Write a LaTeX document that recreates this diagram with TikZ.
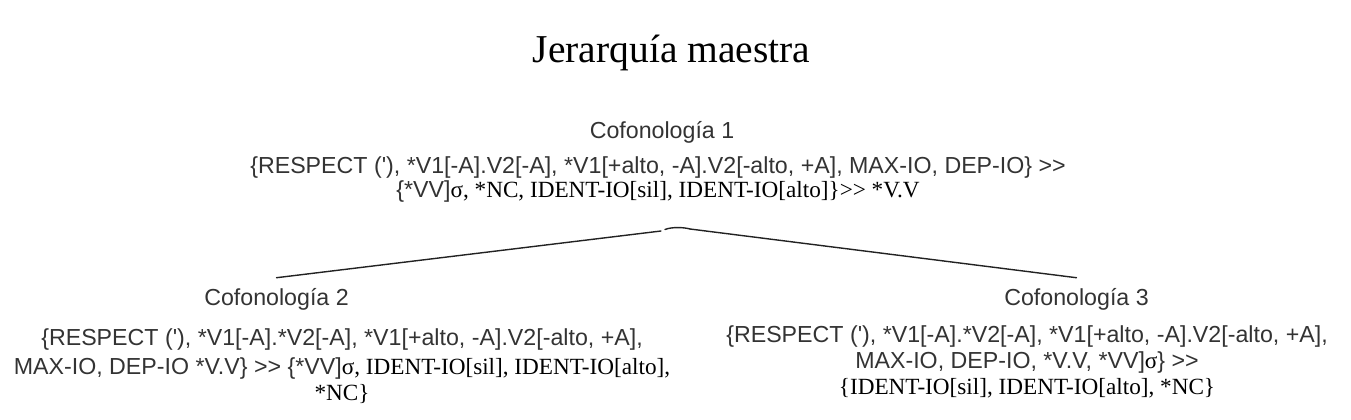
\documentclass[tikz,border=0pt]{standalone}
\usepackage{fontspec}
\setmainfont{Liberation Serif}
\setsansfont{Liberation Sans}
\definecolor{sanscol}{HTML}{333333}
\definecolor{linecol}{HTML}{222222}
\newcommand\sfp[1]{{\sffamily\color{sanscol}#1}}
\newcommand\rmp[1]{{\rmfamily\color{black}#1}}
\newcommand\apo{\textquotesingle}
\newcommand\GG{>{}>}
\tikzset{
  lbl/.style={font=\sffamily\fontsize{23.2}{26}\selectfont, text=sanscol, inner xsep=0pt, inner ysep=10pt, anchor=base},
  body/.style={font=\fontsize{23.2}{26}\selectfont, inner sep=0pt, align=center, anchor=base},
  conn/.style={draw=linecol, line width=1.4pt, line cap=round}
}
\begin{document}
\begin{tikzpicture}[x=1pt,y=-1pt]
\useasboundingbox (0,0) rectangle (1351,420);
\node[font=\rmfamily\fontsize{39.5}{44}\selectfont, inner sep=0pt, anchor=base] (title) at (671.5,63) {Jerarquía maestra};

\node[lbl] (c1) at (662,138) {Cofonología 1};
\node[body] (r1) at (658,197) {\sfp{\{RESPECT (\apo), *V1[-A].V2[-A], *V1[+alto, -A].V2[-alto, +A], MAX-IO, DEP-IO\} \GG}\\[-2pt]
\sfp{\{*VV]}\rmp{σ, *NC, IDENT-IO[sil], IDENT-IO[alto]\}\GG{} *V.V}};

\node[lbl] (c2) at (276.5,305) {Cofonología 2};
\node[body] (r2) at (342,400) {\sfp{\{RESPECT (\apo), *V1[-A].*V2[-A], *V1[+alto, -A].V2[-alto, +A],}\\[3pt]
\sfp{MAX-IO, DEP-IO *V.V\} \GG{} \{*VV]}\rmp{σ, IDENT-IO[sil], IDENT-IO[alto],}\\
\rmp{*NC\}}};

\node[lbl] (c3) at (1076.5,305) {Cofonología 3};
\node[body] (r3) at (1027,394) {\sfp{\{RESPECT (\apo), *V1[-A].*V2[-A], *V1[+alto, -A].V2[-alto, +A],}\\
\sfp{MAX-IO, DEP-IO, *V.V, *VV]}\rmp{σ}\sfp{\} \GG}\\
\rmp{\{IDENT-IO[sil], IDENT-IO[alto], *NC\}}};

\coordinate (apexL) at (661,231);
\coordinate (humpA) at (665,229.5);
\coordinate (apexR) at (690,229);
\draw[conn] (c2.north) -- (apexL);
\draw[conn] (humpA) .. controls (671,227) and (683,227) .. (apexR);
\draw[conn] (apexR) -- (c3.north);
\end{tikzpicture}
\end{document}
